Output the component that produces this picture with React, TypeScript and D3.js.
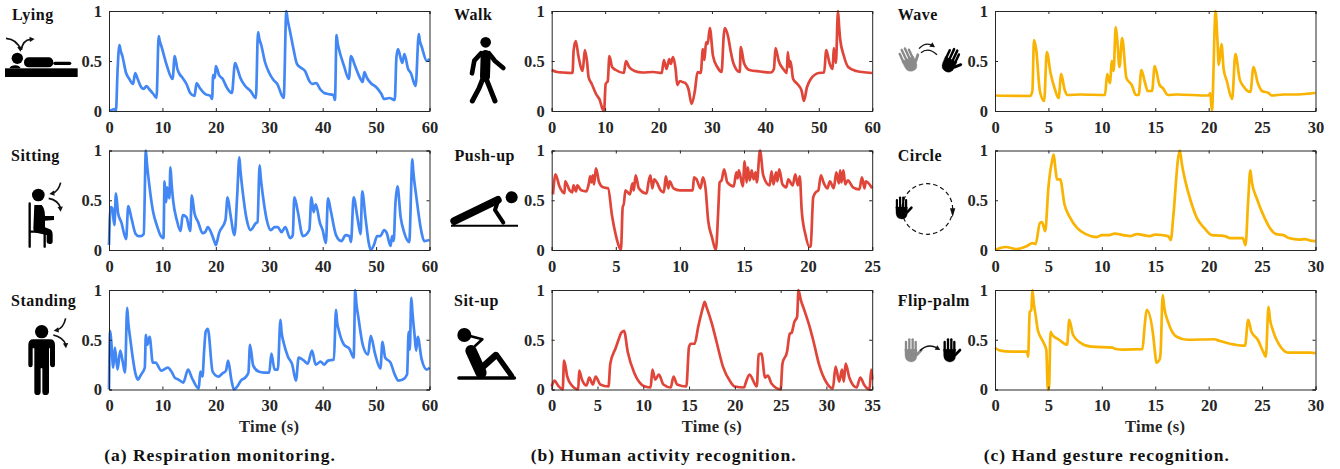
import * as d3 from "d3";
import { useEffect, useRef } from "react";

type Pt = [number, number];

const BLUE = "#4387f5";
const RED = "#e0453a";
const YELLOW = "#f9b403";
const AXIS = "#262626";
const FONT = "'Liberation Serif', serif";

// values: [time, level]
const lying: Pt[] = [[0,0],[0.5,0.01],[1,0.02],[1.3,0],[1.6,0.4],[1.95,0.66],[2.2,0.6],[2.5,0.55],[3.2,0.38],[3.8,0.32],[4.5,0.27],[4.9,0.38],[5.3,0.33],[6,0.24],[6.5,0.22],[7,0.25],[7.5,0.22],[8.3,0.17],[8.9,0.13],[9.3,0.75],[9.5,0.7],[9.8,0.65],[10.8,0.46],[11.9,0.32],[12.3,0.55],[12.8,0.42],[13.2,0.37],[13.8,0.33],[14.5,0.27],[15.2,0.18],[16,0.15],[16.4,0.28],[17,0.23],[18,0.17],[19,0.15],[19.3,0.12],[19.5,0.36],[19.8,0.33],[20,0.45],[20.6,0.36],[21.3,0.32],[22,0.24],[23,0.18],[23.6,0.48],[24,0.43],[24.6,0.33],[25.5,0.25],[26.5,0.2],[27.5,0.13],[27.9,0.79],[28.15,0.72],[28.5,0.66],[29.2,0.49],[30,0.38],[30.8,0.31],[31.5,0.27],[32.7,0.13],[33.2,1],[33.45,0.91],[33.8,0.82],[34.5,0.63],[35.2,0.47],[36,0.43],[36.7,0.4],[37.5,0.3],[38,0.27],[38.8,0.28],[39.5,0.22],[40.3,0.18],[41,0.17],[42,0.16],[42.3,0.11],[42.6,0.76],[42.8,0.68],[43,0.63],[44,0.45],[44.9,0.32],[45.3,0.55],[46,0.46],[47,0.33],[47.5,0.29],[47.8,0.39],[48.3,0.33],[49,0.28],[50,0.24],[51,0.17],[51.5,0.12],[52.5,0.13],[53.5,0.11],[53.8,0.53],[54.1,0.62],[54.9,0.48],[55.3,0.57],[56,0.42],[56.5,0.38],[57.4,0.25],[58,0.77],[58.2,0.7],[58.5,0.65],[59.5,0.5],[60,0.52]];
const sitting: Pt[] = [[0,0.05],[0.3,0.43],[0.6,0.42],[1,0.25],[1.3,0.57],[1.7,0.37],[2.3,0.28],[3.2,0.11],[3.6,0.44],[4.2,0.32],[5,0.16],[5.5,0.14],[6,0.14],[6.5,0.16],[6.9,1],[7.1,0.87],[7.4,0.72],[8.2,0.4],[9,0.24],[9.6,0.15],[10.2,0.12],[10.4,0.69],[10.7,0.48],[10.9,0.63],[11.3,0.52],[11.5,0.83],[11.7,0.68],[12,0.5],[12.7,0.3],[13.4,0.19],[13.8,0.35],[14.5,0.33],[15.2,0.19],[15.5,0.55],[16,0.37],[16.7,0.28],[17.5,0.17],[18,0.18],[18.5,0.23],[19,0.19],[19.7,0.09],[20,0.05],[20.6,0.17],[21.8,0.3],[22.2,0.53],[22.7,0.37],[23.5,0.15],[24,0.55],[24.4,0.93],[24.6,0.8],[25,0.6],[25.8,0.3],[26.5,0.2],[27.5,0.27],[27.8,0.28],[28.2,0.85],[28.4,0.73],[28.8,0.55],[29.5,0.31],[30.3,0.2],[31,0.23],[31.6,0.23],[32.3,0.18],[33,0.23],[33.9,0.12],[34.4,0.15],[34.7,0.53],[35.3,0.4],[36.3,0.14],[37.5,0.2],[37.9,0.53],[38.3,0.38],[38.7,0.46],[39.5,0.27],[40,0.2],[40.6,0.07],[41,0.52],[41.5,0.4],[42.5,0.15],[43.5,0.09],[44.3,0.15],[45,0.14],[45.3,0.08],[45.8,0.53],[46.5,0.33],[47.1,0.16],[47.4,0.59],[48,0.33],[48.6,0.08],[49,0],[49.6,0.05],[50.2,0.14],[50.8,0.14],[51.5,0.2],[52,0.17],[52.7,0.04],[53,0.14],[53.3,0.09],[53.6,0.45],[54,0.64],[54.6,0.33],[55.3,0.17],[56.2,0.08],[56.8,0.91],[56.95,0.8],[57.5,0.55],[58.5,0.18],[59,0.09],[60,0.1]];
const standing: Pt[] = [[0,0],[0.2,0.59],[0.4,0.5],[0.8,0.22],[1.1,0.42],[1.6,0.2],[2.1,0.39],[2.6,0.27],[3,0.17],[3.4,0.82],[3.6,0.68],[4,0.5],[5,0.15],[5.4,0.1],[6,0.15],[6.7,0.22],[6.9,0.55],[7.2,0.45],[7.6,0.53],[8.2,0.27],[8.7,0.27],[9.8,0.19],[11,0.22],[11.8,0.17],[12.3,0.12],[13,0.1],[13.9,0.07],[14.8,0.2],[15.5,0.12],[16.8,0.01],[17.1,0.18],[17.5,0.13],[17.8,0.38],[18.1,0.58],[18.5,0.61],[19.4,0.18],[20.5,0.13],[21.2,0.16],[21.9,0.19],[22.3,0.29],[22.9,0.1],[23.4,0],[24,0.03],[24.7,0.09],[25.5,0.12],[26.1,0.17],[26.4,0.45],[27,0.24],[28,0.18],[29,0.17],[30,0.17],[30.4,0.36],[31,0.2],[31.6,0.2],[32.1,0.7],[32.3,0.58],[32.7,0.47],[33.5,0.33],[34.3,0.25],[35,0.09],[35.5,0.32],[36.5,0.29],[37.2,0.26],[38,0.39],[38.7,0.25],[39.6,0.28],[40.3,0.25],[41,0.29],[42.1,0.3],[42.5,0.8],[42.7,0.68],[43,0.6],[44,0.45],[45,0.41],[45.8,0.32],[46.1,1],[46.3,0.87],[46.7,0.72],[47.5,0.45],[48.5,0.35],[49,0.54],[49.8,0.36],[50.8,0.21],[51.2,0.48],[51.7,0.32],[52.7,0.27],[53.5,0.15],[54.2,0.09],[55,0.1],[55.8,0.15],[56.1,0.58],[56.3,0.4],[56.6,0.92],[56.8,0.78],[57.2,0.55],[57.5,0.39],[57.8,0.53],[58.5,0.31],[59.5,0.2],[60,0.22]];
const walk: Pt[] = [[0,0.41],[1,0.39],[2,0.385],[3.9,0.38],[4.1,0.6],[4.5,0.7],[5,0.55],[5.8,0.4],[6.2,0.61],[6.6,0.5],[6.9,0.34],[7.5,0.27],[8.3,0.17],[9,0.11],[9.5,0.02],[9.8,0],[10.1,0.27],[10.5,0.3],[10.8,0.55],[11.3,0.44],[12,0.41],[13.5,0.38],[13.9,0.5],[14.5,0.44],[15.5,0.4],[17,0.385],[19,0.39],[20.6,0.38],[21,0.51],[21.5,0.42],[22,0.52],[22.3,0.47],[22.7,0.54],[23.2,0.42],[23.5,0.26],[24,0.3],[24.5,0.29],[25,0.28],[25.6,0.22],[26.2,0.07],[26.8,0.2],[27.3,0.39],[27.9,0.38],[28.3,0.62],[28.6,0.51],[28.9,0.69],[29.2,0.67],[29.6,0.83],[30.2,0.55],[31,0.44],[31.8,0.39],[32.2,0.75],[32.4,0.83],[33,0.75],[33.5,0.6],[34,0.48],[35.2,0.39],[35.4,0.64],[36,0.48],[37,0.41],[39,0.395],[41,0.385],[41.6,0.42],[41.9,0.63],[42.5,0.5],[43.5,0.41],[44,0.38],[44.2,0.59],[44.5,0.44],[44.7,0.5],[45.2,0.32],[46,0.27],[46.8,0.2],[47.2,0.1],[47.8,0.24],[48.5,0.32],[50,0.38],[51,0.385],[51.4,0.61],[52,0.48],[52.6,0.42],[52.8,0.63],[53.2,0.48],[53.6,1],[53.8,0.85],[54,0.72],[54.7,0.55],[55.5,0.44],[57,0.4],[59,0.385],[60,0.38]];
const pushUp: Pt[] = [[0.1,0.56],[0.3,0.76],[0.6,0.64],[1,0.57],[1.05,0.69],[1.4,0.6],[1.6,0.58],[1.7,0.65],[1.9,0.59],[2,0.65],[2.3,0.6],[2.7,0.59],[2.9,0.67],[3,0.74],[3.1,0.68],[3.2,0.75],[3.3,0.66],[3.45,0.82],[3.7,0.68],[4,0.63],[4.4,0.62],[4.7,0.35],[5,0.15],[5.3,0.02],[5.4,0],[5.55,0.45],[5.6,0.44],[5.75,0.6],[6.1,0.56],[6.3,0.67],[6.4,0.6],[6.55,0.75],[6.8,0.62],[7.4,0.57],[7.55,0.68],[7.7,0.75],[7.85,0.62],[8,0.71],[8.2,0.68],[8.5,0.6],[8.75,0.58],[8.9,0.74],[9.1,0.62],[9.2,0.69],[9.5,0.62],[10,0.6],[11,0.6],[11.1,0.73],[11.3,0.71],[11.6,0.62],[11.8,0.73],[12,0.62],[12.2,0.3],[12.5,0.13],[12.8,0],[13,0.42],[13.1,0.68],[13.25,0.7],[13.45,0.81],[13.7,0.68],[14.2,0.64],[14.4,0.78],[14.5,0.72],[14.6,0.8],[14.9,0.64],[15.05,0.89],[15.2,0.68],[15.3,0.83],[15.45,0.7],[15.6,0.8],[15.75,0.71],[15.9,0.78],[16,0.68],[16.25,1],[16.5,0.75],[17,0.65],[17.15,0.79],[17.3,0.66],[17.5,0.78],[17.6,0.69],[17.75,0.81],[18,0.66],[18.3,0.63],[18.45,0.71],[18.8,0.65],[19,0.76],[19.2,0.65],[19.35,0.74],[19.5,0.4],[19.8,0.15],[20.1,0.03],[20.2,0.04],[20.4,0.53],[20.6,0.58],[20.8,0.6],[21,0.75],[21.2,0.68],[21.5,0.62],[21.7,0.69],[22,0.62],[22.2,0.78],[22.4,0.67],[22.5,0.8],[22.6,0.68],[22.75,0.8],[22.9,0.66],[23.1,0.7],[23.5,0.63],[24,0.61],[24.2,0.73],[24.4,0.62],[24.5,0.69],[25,0.62]];
const sitUp: Pt[] = [[0,0.03],[0.3,0.09],[0.7,0.04],[1.2,0],[1.35,0.29],[1.7,0.13],[2.2,0.04],[2.9,0],[3,0.19],[3.3,0.1],[3.8,0.04],[4.1,0.12],[4.5,0.05],[4.8,0.13],[5.3,0.05],[6.2,0.03],[6.4,0.26],[7,0.42],[7.3,0.5],[7.6,0.57],[7.9,0.59],[8.3,0.38],[9,0.17],[9.8,0.05],[10.2,0.03],[10.8,0.02],[11,0.2],[11.3,0.1],[11.7,0.15],[12.2,0.05],[13,0.02],[13.3,0.13],[13.7,0.05],[14.7,0.03],[15,0.43],[15.2,0.46],[15.6,0.46],[16,0.63],[16.5,0.82],[16.7,0.88],[16.9,0.83],[17.5,0.66],[18,0.48],[18.7,0.23],[19.5,0.08],[20,0.03],[21,0.02],[21.2,0.07],[21.6,0.15],[22.4,0.03],[22.6,0.35],[22.9,0.36],[23.3,0.12],[23.6,0.14],[24,0.06],[25,0],[25.2,0.26],[25.7,0.38],[26,0.56],[26.2,0.57],[26.5,0.68],[26.8,0.73],[26.95,1],[27.2,0.9],[27.5,0.82],[28.2,0.62],[28.6,0.48],[29.2,0.25],[30,0.07],[30.7,0.01],[31,0.23],[31.4,0.08],[31.7,0.2],[31.9,0.08],[32.1,0.26],[32.5,0.12],[33.3,0.02],[33.7,0.12],[34.1,0.05],[34.7,0],[34.9,0.2],[35,0.1]];
const wave: Pt[] = [[0,0.155],[3.3,0.15],[3.5,0.2],[3.65,0.71],[3.85,0.62],[4.2,0.2],[4.6,0.1],[4.85,0.59],[5.2,0.38],[5.6,0.22],[5.95,0.13],[6.2,0.37],[6.5,0.22],[6.8,0.16],[8,0.165],[10.3,0.16],[10.5,0.37],[10.75,0.28],[10.95,0.5],[11.1,0.4],[11.3,0.84],[11.45,0.7],[11.65,0.44],[11.9,0.73],[12.3,0.33],[12.8,0.26],[13.2,0.16],[13.45,0.16],[13.7,0.41],[14,0.3],[14.3,0.2],[14.7,0.2],[14.95,0.45],[15.4,0.26],[15.7,0.23],[16.2,0.16],[17,0.165],[20,0.155],[20.15,0.18],[20.3,0],[20.65,1],[20.8,0.75],[20.95,0.46],[21.2,0.67],[21.4,0.42],[21.7,0.3],[22.2,0.12],[22.5,0.57],[22.9,0.32],[23.3,0.24],[23.9,0.19],[24.2,0.44],[24.6,0.28],[25,0.2],[25.6,0.18],[25.9,0.155],[27,0.165],[28,0.165],[29,0.17],[30,0.18]];
const circle: Pt[] = [[0,0],[0.5,0.02],[1,0.03],[2,0.01],[3,0.04],[3.5,0.07],[3.8,0.06],[4.2,0.27],[4.4,0.28],[4.7,0.19],[5,0.63],[5.35,0.9],[5.5,0.96],[5.65,0.82],[5.8,0.71],[6.1,0.71],[6.5,0.46],[7,0.33],[7.7,0.22],[8.5,0.16],[9.5,0.13],[10,0.15],[10.7,0.15],[11.2,0.165],[12,0.15],[12.7,0.14],[13.3,0.16],[14.5,0.14],[15,0.155],[16.2,0.14],[16.45,0.1],[16.7,0.35],[17.15,0.93],[17.3,1],[17.5,0.86],[17.8,0.7],[18.3,0.5],[18.9,0.32],[19.6,0.22],[20.3,0.15],[21,0.145],[21.5,0.14],[22,0.12],[23.2,0.12],[23.45,0.05],[23.7,0.5],[23.9,0.8],[24.05,0.68],[24.5,0.52],[25.2,0.33],[25.8,0.21],[26.3,0.16],[27,0.15],[27.5,0.12],[28.5,0.105],[29,0.11],[29.5,0.095],[30,0.09]];
const flipPalm: Pt[] = [[0,0.42],[0.5,0.39],[1.5,0.38],[3,0.38],[3.1,0.33],[3.25,0.78],[3.4,0.8],[3.5,1],[3.65,0.85],[3.8,0.75],[4,0.6],[4.5,0.48],[4.8,0.4],[4.95,0],[5.05,0],[5.2,0.58],[5.35,0.55],[6,0.5],[6.75,0.45],[6.95,0.7],[7.3,0.55],[8,0.47],[9,0.43],[11,0.42],[11.2,0.41],[12,0.4],[13.8,0.405],[14,0.63],[14.2,0.8],[14.8,0.55],[15,0.35],[15.1,0.27],[15.4,0.3],[15.5,0.37],[15.7,0.95],[15.85,0.82],[16.2,0.68],[17,0.53],[18,0.5],[20.5,0.505],[21,0.49],[22,0.46],[23.4,0.44],[23.7,0.7],[24,0.58],[24.6,0.5],[25.1,0.38],[25.35,0.33],[25.6,0.83],[25.75,0.7],[26,0.6],[26.8,0.42],[27.5,0.37],[29.5,0.37],[30,0.365]];

const Y_TICKS = [0, 0.5, 1];
const TICKS_60 = [0, 10, 20, 30, 40, 50, 60];
const TICKS_25 = [0, 5, 10, 15, 20, 25];
const TICKS_35 = [0, 5, 10, 15, 20, 25, 30, 35];
const TICKS_30 = [0, 5, 10, 15, 20, 25, 30];

const COLS = [109, 551.7, 995];
const ROWS = [
  { top: 11, bottom: 111 },
  { top: 150.5, bottom: 250 },
  { top: 290, bottom: 389.5 },
];
const PANEL_W = 320.5;

type PanelProps = { col: number; row: number; data: Pt[]; ticks: number[]; color: string };

const Panel = ({ col, row, data, ticks, color }: PanelProps) => {
  const axesRef = useRef<SVGGElement>(null);
  const left = COLS[col];
  const { top, bottom } = ROWS[row];
  const h = bottom - top;

  const x = d3.scaleLinear().domain([0, ticks[ticks.length - 1]]).range([0, PANEL_W]);
  const y = d3.scaleLinear().domain([0, 1]).range([h, 0]);
  const line = d3.line<Pt>().x((d) => x(d[0])).y((d) => y(d[1])).curve(d3.curveMonotoneX);

  useEffect(() => {
    const g = d3.select(axesRef.current);
    g.selectAll("*").remove();
    // MATLAB style box: inward ticks on all four sides
    g.append("g").attr("transform", `translate(0,${h})`)
      .call(d3.axisBottom(x).tickValues(ticks).tickFormat(d3.format("d") as any).tickSize(-3).tickPadding(10));
    g.append("g").call(d3.axisTop(x).tickValues(ticks).tickFormat(() => "").tickSize(-3));
    g.append("g")
      .call(d3.axisLeft(y).tickValues(Y_TICKS).tickFormat((d) => String(d)).tickSize(-3).tickPadding(7));
    g.append("g").attr("transform", `translate(${PANEL_W},0)`)
      .call(d3.axisRight(y).tickValues(Y_TICKS).tickFormat(() => "").tickSize(-3));
    g.selectAll("path.domain").attr("stroke", AXIS).attr("stroke-width", 1);
    g.selectAll(".tick line").attr("stroke", AXIS).attr("stroke-width", 1);
    g.selectAll("text")
      .attr("fill", AXIS)
      .style("font-family", FONT)
      .style("font-size", "16.5px")
      .style("font-weight", "bold");
  }, []);

  return (
    <g transform={`translate(${left},${top})`}>
      <path d={line(data) ?? ""} fill="none" stroke={color} strokeWidth={2.7} strokeLinejoin="round" />
      <g ref={axesRef} />
      {row === 2 && (
        <text x={PANEL_W / 2} y={h + 42.5} textAnchor="middle" fontFamily={FONT} fontSize={16.5} fontWeight="bold" fill={AXIS} letterSpacing={0.3}>
          Time (s)
        </text>
      )}
    </g>
  );
};

const Label = ({ x, y, text }: { x: number; y: number; text: string }) => (
  <text x={x} y={y} fontFamily={FONT} fontSize={16} fontWeight="bold" fill="#111" letterSpacing={0.5}>
    {text}
  </text>
);

const Caption = ({ x, text }: { x: number; text: string }) => (
  <text x={x} y={460.5} textAnchor="middle" fontFamily={FONT} fontSize={17.5} fontWeight="bold" fill="#111" letterSpacing={1}>
    {text}
  </text>
);

const Arrow = ({ d, tip, angle, sw = 5 }: { d: string; tip: Pt; angle: number; sw?: number }) => (
  <g>
    <path d={d} fill="none" stroke="#111" strokeWidth={sw} />
    <path d="M0 0 L-15 -8 L-15 8 Z" fill="#111" transform={`translate(${tip[0]},${tip[1]}) rotate(${angle})`} />
  </g>
);

const Hand = ({ x, y, fill, scale = 1, rotate = 0 }: { x: number; y: number; fill: string; scale?: number; rotate?: number }) => (
  <g transform={`translate(${x},${y}) rotate(${rotate}) scale(${scale})`} stroke={fill} strokeLinecap="round" fill={fill}>
    <g strokeWidth={7}>
      <path d="M-15 0 V-26" />
      <path d="M-5 0 V-34" />
      <path d="M5 0 V-34" />
      <path d="M14 0 V-26" />
      <path d="M18 12 L31 -2" strokeWidth={8} />
    </g>
    <path d="M-18 -4 H18 V16 Q16 34 0 34 Q-18 32 -18 14 Z" strokeWidth={1} />
  </g>
);

// icons use the 3x crop coordinates, hence the scale
const Icons = () => (
  <g>
    <g transform="scale(0.3333)">
      <circle cx={52} cy={175} r={17} fill="#000" />
      <rect x={72} y={172} width={88} height={30} rx={14} fill="#000" />
      <rect x={160} y={185} width={54} height={10} rx={5} fill="#000" />
      <path d="M28 205 Q32 196 46 196 Q58 196 62 205 Z" fill="#000" />
      <rect x={15} y={205} width={218} height={26} fill="#000" />
      <Arrow d="M18 115 Q52 118 62 150" tip={[62, 155]} angle={80} />
      <Arrow d="M64 150 Q68 120 92 118" tip={[104, 117]} angle={-5} />
    </g>
    <g transform="translate(0,140) scale(0.3333)">
      <circle cx={115} cy={165} r={19} fill="#000" />
      <path d="M89 190 V320 M89 275 H134 V320" fill="none" stroke="#000" strokeWidth={7} strokeLinecap="round" />
      <path d="M103 195 L125 195 Q135 205 135 228 L162 228 V240 L135 242 V262 L150 268 Q158 272 158 285 V305 Q158 312 148 312 Q140 310 140 305 V285 L108 278 Q100 275 100 265 Z" fill="#000" />
      <Arrow d="M182 128 Q175 155 157 160" tip={[148, 162]} angle={170} />
      <Arrow d="M146 175 Q175 180 182 205" tip={[182, 215]} angle={85} />
    </g>
    <g transform="translate(0,280) scale(0.3333)">
      <circle cx={125} cy={155} r={20} fill="#000" />
      <path d="M100 178 H150 Q165 178 165 195 V255 Q165 262 158 262 Q152 262 150 255 V205 H147 V335 Q147 345 136 345 Q127 345 127 335 V265 H122 V335 Q122 345 112 345 Q103 345 103 335 V205 H98 V255 Q98 262 91 262 Q85 262 85 255 V195 Q85 178 100 178 Z" fill="#000" />
      <Arrow d="M197 115 Q190 145 170 150" tip={[161, 152]} angle={170} />
      <Arrow d="M160 165 Q190 172 197 194" tip={[198, 205]} angle={85} />
    </g>
    <g transform="translate(445,0) scale(0.3333)" stroke="#000" fill="none" strokeLinecap="round" strokeLinejoin="round">
      <circle cx={122} cy={127} r={16} fill="#000" stroke="none" />
      <path d="M122 165 L120 230" strokeWidth={30} />
      <path d="M108 160 L88 182 L81 220" strokeWidth={14} />
      <path d="M132 160 L150 183 L175 204" strokeWidth={14} />
      <path d="M112 240 L102 265 L82 303" strokeWidth={15} />
      <path d="M125 240 L135 265 L150 303" strokeWidth={15} />
    </g>
    <g transform="translate(445,140) scale(0.3333)" stroke="#000" fill="none" strokeLinejoin="round">
      <circle cx={200} cy={172} r={18} fill="#000" stroke="none" />
      <path d="M28 243 L158 180" strokeWidth={24} strokeLinecap="round" />
      <path d="M160 180 L150 210 L175 248" strokeWidth={12} strokeLinecap="round" />
      <path d="M18 257 H219" strokeWidth={6} />
    </g>
    <g transform="translate(445,280) scale(0.3333)" stroke="#000" fill="none" strokeLinejoin="round" strokeLinecap="round">
      <circle cx={58} cy={165} r={21} fill="#000" stroke="none" />
      <path d="M75 168 L112 178 L90 198" strokeWidth={8} />
      <path d="M78 212 L108 278" strokeWidth={34} />
      <path d="M112 262 L152 226" strokeWidth={20} />
      <path d="M155 225 L200 288" strokeWidth={16} />
      <path d="M42 294 H208" strokeWidth={11} />
    </g>
    <g transform="translate(885,0) scale(0.3333)">
      <Hand x={70} y={180} fill="#8a8a8a" rotate={-25} scale={1.05} />
      <Hand x={197} y={182} fill="#000" rotate={25} scale={1.05} />
      <Arrow d="M102 146 Q122 124 145 138" tip={[150, 142]} angle={35} sw={4} />
      <path d="M108 158 Q130 140 156 164" fill="none" stroke="#111" strokeWidth={4} />
    </g>
    <g transform="translate(885,140) scale(0.3333)">
      <circle cx={127} cy={207} r={76} fill="none" stroke="#111" strokeWidth={3.5} strokeDasharray="13 9" />
      <path d="M195 205 L211 205 L203 232 Z" fill="#111" />
      <Hand x={50} y={205} fill="#000" scale={0.95} />
    </g>
    <g transform="translate(885,280) scale(0.3333)">
      <Hand x={78} y={212} fill="#8a8a8a" />
      <Hand x={194} y={212} fill="#000" />
      <Arrow d="M105 212 Q128 190 155 203" tip={[166, 210]} angle={30} sw={4} />
    </g>
  </g>
);

export default function App() {
  return (
    <svg width={1340} height={469} style={{ position: "absolute", left: 0, top: 0, background: "#fff" }}>
      <Panel col={0} row={0} data={lying} ticks={TICKS_60} color={BLUE} />
      <Panel col={0} row={1} data={sitting} ticks={TICKS_60} color={BLUE} />
      <Panel col={0} row={2} data={standing} ticks={TICKS_60} color={BLUE} />
      <Panel col={1} row={0} data={walk} ticks={TICKS_60} color={RED} />
      <Panel col={1} row={1} data={pushUp} ticks={TICKS_25} color={RED} />
      <Panel col={1} row={2} data={sitUp} ticks={TICKS_35} color={RED} />
      <Panel col={2} row={0} data={wave} ticks={TICKS_30} color={YELLOW} />
      <Panel col={2} row={1} data={circle} ticks={TICKS_30} color={YELLOW} />
      <Panel col={2} row={2} data={flipPalm} ticks={TICKS_30} color={YELLOW} />

      <Label x={12} y={20} text="Lying" />
      <Label x={11} y={160.7} text="Sitting" />
      <Label x={11} y={305.7} text="Standing" />
      <Label x={454} y={20} text="Walk" />
      <Label x={454.5} y={160.7} text="Push-up" />
      <Label x={454} y={305.7} text="Sit-up" />
      <Label x={897.7} y={20} text="Wave" />
      <Label x={897.7} y={160.7} text="Circle" />
      <Label x={897.7} y={305.7} text="Flip-palm" />

      <Icons />

      <Caption x={220} text="(a) Respiration monitoring." />
      <Caption x={663.7} text="(b) Human activity recognition." />
      <Caption x={1106.7} text="(c) Hand gesture recognition." />
    </svg>
  );
}
